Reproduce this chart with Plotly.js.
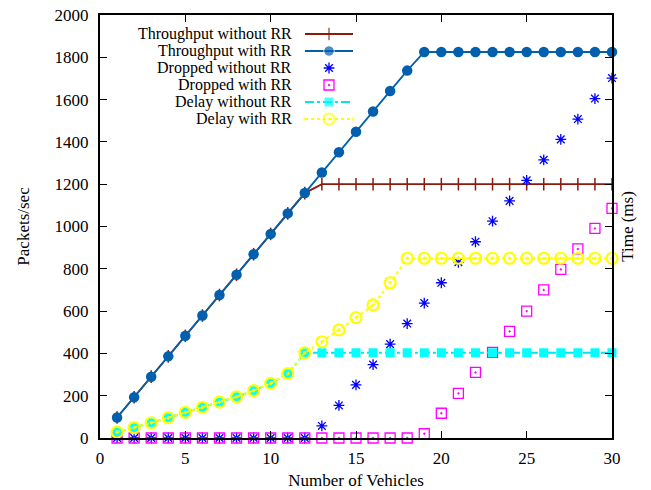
<!DOCTYPE html>
<html>
<head>
<meta charset="utf-8">
<script src="https://cdn.plot.ly/plotly-3.0.1.min.js"></script>
<style>html,body{margin:0;padding:0;background:#fff;}#chart{width:651px;height:490px;}</style>
</head>
<body>
<div id="chart"></div>
<script>
// ---- data ----
const vehicles = [1,2,3,4,5,6,7,8,9,10,11,12,13,14,15,16,17,18,19,20,21,22,23,24,25,26,27,28,29,30];
const throughputWithoutRR = [97,193,290,386,483,579,676,772,869,965,1062,1158,1200,1200,1200,1200,1200,1200,1200,1200,1200,1200,1200,1200,1200,1200,1200,1200,1200,1200];
const throughputWithRR = [97,193,290,386,483,579,676,772,869,965,1062,1158,1255,1351,1448,1544,1641,1737,1825,1825,1825,1825,1825,1825,1825,1825,1825,1825,1825,1825];
const droppedWithoutRR = [0,0,0,0,0,0,0,0,0,0,0,0,57,154,251,347,444,541,638,734,831,928,1025,1121,1218,1315,1412,1508,1605,1702];
const droppedWithRR = [0,0,0,0,0,0,0,0,0,0,0,0,0,0,0,0,0,0,20,117,211,310,405,504,600,700,797,894,991,1086];
const delayWithoutRR = [28,49,72,96,121,145,170,195,224,258,304,403,403,403,403,403,403,403,403,403,403,403,403,403,403,403,403,403,403,403];
const delayWithRR = [28,49,72,96,121,145,170,195,224,258,304,403,455,511,569,629,734,850,850,850,850,850,850,850,850,850,850,850,850,850];
const seriesNames = ["Throughput without RR","Throughput with RR","Dropped without RR","Dropped with RR","Delay without RR","Delay with RR"];
const xTicks = [0,5,10,15,20,25,30];
const yTicks = [0,200,400,600,800,1000,1200,1400,1600,1800,2000];

// ---- styles ----
const FONT = "Liberation Serif";
const FS = 17;
const LEGFS = 16;
const styles = [
  {mode:"lines+markers", line:{color:"#8b1a0e", width:1.8}, marker:{symbol:"line-ns-open", size:9, color:"#8b1a0e", line:{width:1.5, color:"#8b1a0e"}}},
  {mode:"lines+markers", line:{color:"#0060ad", width:1.8}, marker:{symbol:"circle", size:10.5, color:"#0060ad"}},
  {mode:"markers", marker:{symbol:"asterisk-open", size:9, color:"#0000ff", line:{width:1.3, color:"#1a1aff"}}},
  {mode:"markers", marker:{symbol:"square-open-dot", size:10, color:"#ff00ff", line:{width:1.3, color:"#ff00ff"}}},
  {mode:"lines+markers", line:{color:"#00e5ee", width:2, dash:"dashdot"}, marker:{symbol:"square", size:9, color:"#00ffff", line:{width:0}}},
  {mode:"lines+markers", line:{color:"#ffff00", width:2, dash:"dot"}, marker:{symbol:"circle-open-dot", size:11, color:"#ffff00", line:{width:2.2, color:"#ffff00"}}}
];
const seriesValues = [throughputWithoutRR, throughputWithRR, droppedWithoutRR, droppedWithRR, delayWithoutRR, delayWithRR];
// left axis: packets/sec; right axis: time (ms)
const seriesAxis = ["y","y","y","y","y2","y2"];
const drawOrder = [0,1,2,4,5,3];

const traces = drawOrder.map(i => Object.assign({
  type:"scatter", x: vehicles, y: seriesValues[i], name: seriesNames[i], yaxis: seriesAxis[i], showlegend:false, cliponaxis:false
}, JSON.parse(JSON.stringify(styles[i]))));

// ---- manual gnuplot-style legend (text right-aligned, sample on the right) ----
const LEG = {textRight:293, x0:305, xm:329, x1:353, rows:[34,51,68,85,102,119]};
const annotations = [];
seriesNames.forEach((name, i) => {
  const py = LEG.rows[i];
  annotations.push({xref:"x3", yref:"y3", x:LEG.textRight, y:py, text:name, showarrow:false, borderpad:0, xanchor:"right", yanchor:"middle", font:{family:FONT, size:LEGFS, color:"#000"}});
  const st = JSON.parse(JSON.stringify(styles[i]));
  const isLine = st.mode.indexOf("lines") >= 0;
  const t = {type:"scatter", xaxis:"x3", yaxis:"y3", showlegend:false, hoverinfo:"skip", cliponaxis:false, mode:st.mode, marker:st.marker};
  if (isLine) {
    t.x = [LEG.x0, LEG.xm, LEG.x1]; t.y = [py, py, py]; t.line = st.line;
    t.marker.size = [0, st.marker.size, 0];
  } else {
    t.x = [LEG.xm]; t.y = [py];
  }
  traces.push(t);
});

const axisCommon = {showline:true, linecolor:"#000", linewidth:2, ticks:"inside", ticklen:7, tickwidth:1, tickcolor:"#000", mirror:"ticks", showgrid:false, zeroline:false, tickfont:{family:FONT, size:FS, color:"#000"}};

const layout = {
  width:651, height:490,
  margin:{l:100, r:39, t:15, b:52, pad:0},
  paper_bgcolor:"#fff", plot_bgcolor:"#fff",
  showlegend:false,
  font:{family:FONT, size:FS, color:"#000"},
  xaxis: Object.assign({}, axisCommon, {range:[0,30], tickvals:xTicks, ticktext:xTicks.map(String), ticklabelstandoff:4,
    title:{text:"Number of Vehicles", font:{family:FONT, size:FS, color:"#000"}, standoff:9}}),
  yaxis: Object.assign({}, axisCommon, {range:[0,2000], tickvals:yTicks, ticktext:yTicks.map(String), ticklabelstandoff:6,
    title:{text:"Packets/sec", font:{family:FONT, size:FS, color:"#000"}, standoff:21}}),
  yaxis2: {overlaying:"y", side:"right", range:[0,2000], showticklabels:false, ticks:"", showline:false, showgrid:false, zeroline:false,
    title:{text:"Time (ms)", font:{family:FONT, size:FS, color:"#000"}, standoff:9}},
  xaxis3: {overlaying:"x", range:[100,612], visible:false, anchor:"y3"},
  yaxis3: {overlaying:"y", range:[438,15], visible:false, anchor:"x3"},
  annotations: annotations
};

Plotly.newPlot("chart", traces, layout, {staticPlot:true, displayModeBar:false});
</script>
</body>
</html>
